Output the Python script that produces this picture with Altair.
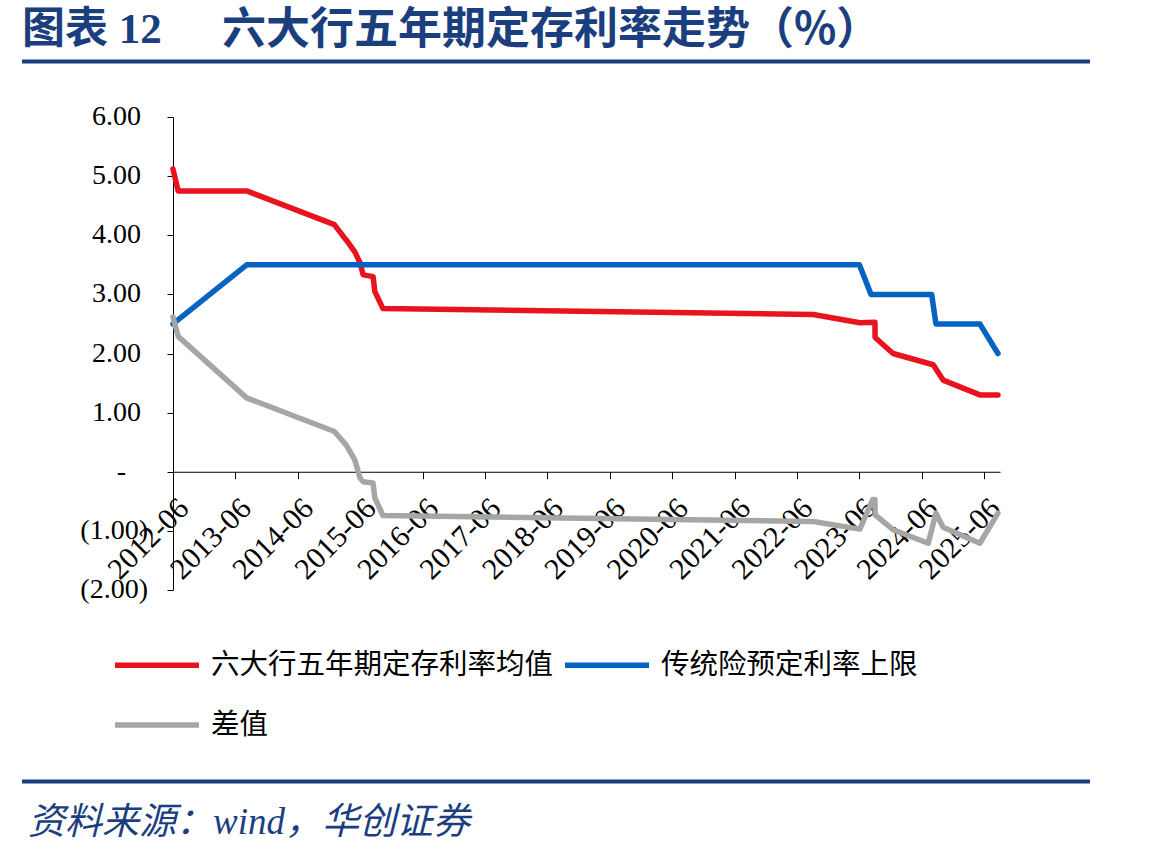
import altair as alt
import pandas as pd

# ---------------- data ----------------
SERIES = ["六大行五年期定存利率均值", "传统险预定利率上限", "差值"]
COLORS = ["#E8131F", "#0563C1", "#A6A6A6"]

red_dates = ["2012-06-01", "2012-07-01", "2013-08-06", "2014-12-06", "2015-01-01",
             "2015-02-23", "2015-03-12", "2015-05-01", "2015-06-01", "2015-06-19",
             "2015-08-16", "2015-08-26", "2015-10-13", "2022-09-04", "2023-06-04",
             "2023-08-31", "2023-09-01", "2023-12-15", "2024-08-06", "2024-10-03",
             "2025-05-06", "2025-08-20"]
red_vals = [5.12, 4.75, 4.75, 4.21, 4.18,
            3.98, 3.92, 3.72, 3.53, 3.33,
            3.30, 3.05, 2.76, 2.66, 2.52,
            2.53, 2.27, 2.00, 1.81, 1.55,
            1.30, 1.30]

blue_dates = ["2012-06-01", "2013-08-06", "2023-06-01", "2023-08-08",
              "2024-07-28", "2024-08-22", "2025-05-06", "2025-08-20"]
blue_vals = [2.50, 3.50, 3.50, 3.00,
             3.00, 2.50, 2.50, 2.00]

gray_dates = ["2012-06-01", "2012-07-01", "2013-08-06", "2014-12-06", "2015-01-01",
              "2015-03-12", "2015-05-01", "2015-06-01", "2015-06-19", "2015-08-16",
              "2015-08-26", "2015-10-13", "2022-09-04", "2023-06-04", "2023-08-18",
              "2023-08-31", "2023-09-01", "2023-12-15", "2024-07-08", "2024-08-22",
              "2024-10-03", "2025-05-06", "2025-08-20"]
gray_vals = [2.62, 2.29, 1.25, 0.71, 0.68,
             0.45, 0.20, -0.11, -0.17, -0.19,
             -0.44, -0.74, -0.84, -0.97, -0.47,
             -0.47, -0.73, -0.98, -1.21, -0.70,
             -0.94, -1.21, -0.70]

tick_years = list(range(2012, 2026))   # x tick labels "YYYY-06"
y_ticks = [-2, -1, 0, 1, 2, 3, 4, 5, 6]

TITLE_A = "图表 12"
TITLE_B = "六大行五年期定存利率走势（%）"
SOURCE = "资料来源：wind，华创证券"

NAVY = "#1B3F7E"
SERIF = "'Liberation Serif', 'Noto Sans CJK SC'"

# ---------------- table ----------------
rows = []
for name, ds, vs in zip(SERIES, [red_dates, blue_dates, gray_dates],
                        [red_vals, blue_vals, gray_vals]):
    for d, v in zip(ds, vs):
        rows.append({"series": name, "date": d, "value": v})
df = pd.DataFrame(rows)
ydf = pd.DataFrame({"v": y_ticks})

W, H = 827, 473
ZERO_OFFSET = -(H * 2 / 8)  # x axis sits at y = 0

y_scale = alt.Scale(domain=[-2, 6], nice=False)

x_enc = alt.X(
    "date:T",
    scale=alt.Scale(
        type="utc",
        domain=[alt.DateTime(year=2012, month=6, date=1, utc=True),
                alt.DateTime(year=2025, month=9, date=1, utc=True)],
    ),
    axis=alt.Axis(
        title=None,
        values=[alt.DateTime(year=y, month=6, date=1, utc=True) for y in tick_years],
        labelExpr="utcFormat(datum.value, '%Y-%m')",
        labelAngle=-45,
        labelAlign="right",
        labelBaseline="top",
        labelFont="Liberation Serif",
        labelFontSize=30,
        labelColor="black",
        labelPadding=14,
        labelOverlap=False,
        labelFlush=False,
        tickSize=7,
        tickColor="black",
        domainColor="black",
        grid=False,
        offset=ZERO_OFFSET,
    ),
)

y_enc = alt.Y(
    "value:Q",
    scale=y_scale,
    axis=alt.Axis(
        title=None,
        values=y_ticks,
        labels=False,
        tickSize=6,
        tickColor="black",
        domainColor="black",
        grid=False,
    ),
)

lines = alt.Chart(df).mark_line(
    strokeWidth=5.5, strokeJoin="round", strokeCap="round"
).encode(
    x=x_enc,
    y=y_enc,
    color=alt.Color(
        "series:N",
        scale=alt.Scale(domain=SERIES, range=COLORS),
        sort=SERIES,
        legend=alt.Legend(
            title=None,
            orient="none",
            direction="horizontal",
            legendX=-61,
            legendY=503,
            columns=2,
            symbolType="stroke",
            symbolSize=7056,
            symbolStrokeWidth=5.5,
            labelFont="Noto Sans CJK SC",
            labelFontSize=28.5,
            labelColor="black",
            labelOffset=9,
            labelLimit=600,
            columnPadding=0,
            rowPadding=0,
            padding=0,
        ),
    ),
    detail="series:N",
)

# y-axis labels in accounting style, placed through the y scale
ylab_base = alt.Chart(ydf).mark_text(
    align="right", baseline="middle", font="Liberation Serif", fontSize=28, color="black"
)
ylab_pos = ylab_base.transform_filter("datum.v > 0").transform_calculate(
    lab="format(datum.v, '.2f')"
).encode(x=alt.value(-32), y=alt.Y("v:Q", scale=y_scale), text="lab:N")
ylab_zero = ylab_base.transform_filter("datum.v == 0").transform_calculate(
    lab="'-'"
).encode(x=alt.value(-47), y=alt.Y("v:Q", scale=y_scale), text="lab:N")
ylab_neg = ylab_base.transform_filter("datum.v < 0").transform_calculate(
    lab="'(' + format(-datum.v, '.2f') + ')'"
).encode(x=alt.value(-25), y=alt.Y("v:Q", scale=y_scale), text="lab:N")


def text_layer(text, x, y, size, weight="normal", style="normal", color=NAVY,
               font="Noto Sans CJK SC"):
    return alt.Chart(pd.DataFrame({"t": [text]})).mark_text(
        align="left", baseline="alphabetic", font=font, fontSize=size,
        fontWeight=weight, fontStyle=style, color=color,
    ).encode(x=alt.value(x), y=alt.value(y), text="t:N")


title_a = text_layer(TITLE_A, -151, -74, 43, weight="bold", font=SERIF)
title_b = text_layer(TITLE_B, 49, -73, 44, weight="bold")
source = text_layer(SOURCE, -145, 717, 37, style="italic", font=SERIF)

rule_df = pd.DataFrame({"k": [0]})
rule_top = alt.Chart(rule_df).mark_rule(color=NAVY, strokeWidth=4).encode(
    x=alt.value(-151), x2=alt.value(917), y=alt.value(-55.5))
rule_bot = alt.Chart(rule_df).mark_rule(color=NAVY, strokeWidth=4).encode(
    x=alt.value(-151), x2=alt.value(917), y=alt.value(664.5))

chart = alt.layer(
    lines, ylab_pos, ylab_zero, ylab_neg, rule_top, rule_bot, title_a, title_b, source
).properties(
    width=W,
    height=H,
    autosize=alt.AutoSizeParams(type="none"),
    padding={"left": 173, "top": 117, "right": 149, "bottom": 267},
    background="white",
).configure_view(strokeWidth=0)

chart.save("out.html", embed_options={"renderer": "svg", "actions": False})
